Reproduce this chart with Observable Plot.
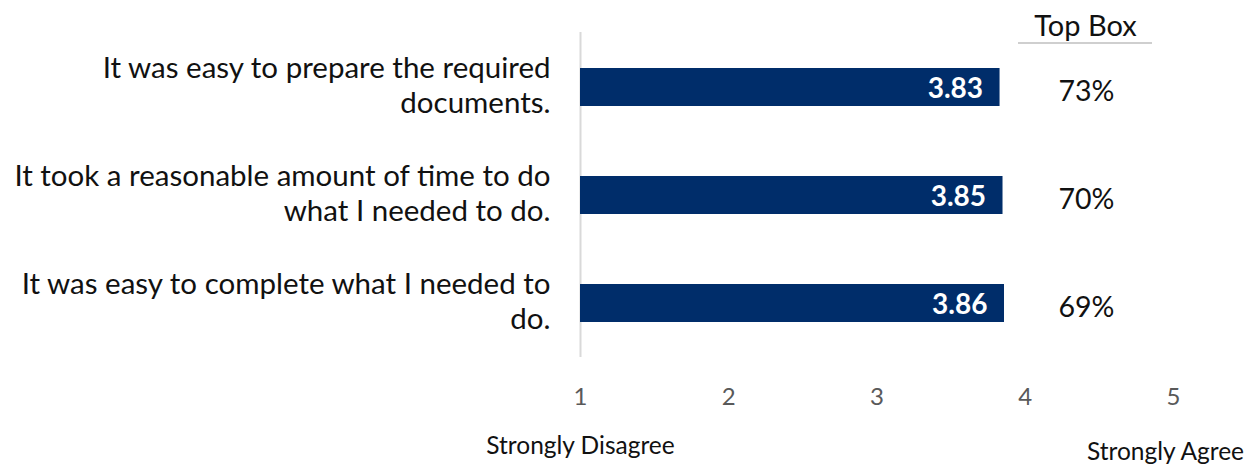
<!DOCTYPE html>
<html>
<head>
<meta charset="utf-8">
<script src="https://cdn.jsdelivr.net/npm/d3@7"></script>
<script src="https://cdn.jsdelivr.net/npm/@observablehq/plot@0.6"></script>
<style>
  html, body { margin: 0; padding: 0; background: #fff; }
  #chart svg { display: block; }
</style>
</head>
<body>
<div id="chart"></div>
<script>
const categories = [
  "It was easy to prepare the required\ndocuments.",
  "It took a reasonable amount of time to do\nwhat I needed to do.",
  "It was easy to complete what I needed to\ndo."
];
const means = [3.83, 3.85, 3.86];
const topBox = ["73%", "70%", "69%"];
const xTicks = [1, 2, 3, 4, 5];
const lowEnd = [1];
const highEnd = [5];
const lowLabel = "Strongly Disagree";
const highLabel = "Strongly Agree";
const topBoxTitle = "Top Box";

const data = categories.map((c, i) => ({cat: c, mean: means[i], top: topBox[i]}));
const font = "Lato, 'Noto Sans', sans-serif";

const chart = Plot.plot({
  width: 1255,
  height: 464,
  marginLeft: 580,
  marginRight: 82,
  marginTop: 32,
  marginBottom: 107,
  x: {domain: [1, 5], axis: null},
  y: {domain: categories, axis: null, padding: 0},
  style: {fontFamily: font, background: "white", overflow: "visible"},
  marks: [
    Plot.ruleX([1], {stroke: "#d9d9d9", strokeWidth: 2}),
    Plot.barX(data, {x1: 1, x2: "mean", y: "cat", fill: "#002d6a", insetTop: 35, insetBottom: 35}),
    Plot.text(data, {y: "cat", text: "cat", frameAnchor: "left", textAnchor: "end", dx: -30, dy: -3,
      fontSize: 29.5, lineHeight: 1.19, fill: "#111"}),
    Plot.text(data, {x: "mean", y: "cat", text: d => d.mean.toFixed(2), textAnchor: "end", dx: -17, dy: 2,
      fill: "white", fontWeight: "bold", fontSize: 28}),
    Plot.text(data, {y: "cat", text: "top", frameAnchor: "right", textAnchor: "middle", dx: -87, dy: 4,
      fontSize: 28.5, fill: "#111"}),
    Plot.text([topBoxTitle], {text: d => d, frameAnchor: "top-right", textAnchor: "middle", dx: -88, dy: -6,
      lineAnchor: "middle", fontSize: 29, fill: "#111"}),
    Plot.text(xTicks, {x: d => d, text: d => String(d), frameAnchor: "bottom", dy: 40, lineAnchor: "middle",
      fontSize: 24, fill: "#595959"}),
    Plot.text(lowEnd, {x: d => d, text: () => lowLabel, frameAnchor: "bottom",
      dy: 89, lineAnchor: "middle", fontSize: 24.5, fill: "#111"}),
    Plot.text(highEnd, {x: d => d, text: () => highLabel, frameAnchor: "bottom",
      dx: -8, dy: 95, lineAnchor: "middle", fontSize: 24.5, fill: "#111"}),
  ]
});

// underline below the "Top Box" header, centred on the header column
const svg = d3.select(chart);
const cx = 1255 - 82 - 88;
svg.append("line")
  .attr("x1", cx - 67).attr("x2", cx + 67)
  .attr("y1", 43).attr("y2", 43)
  .attr("stroke", "#bfbfbf").attr("stroke-width", 1.5);

document.getElementById("chart").appendChild(chart);
</script>
</body>
</html>
